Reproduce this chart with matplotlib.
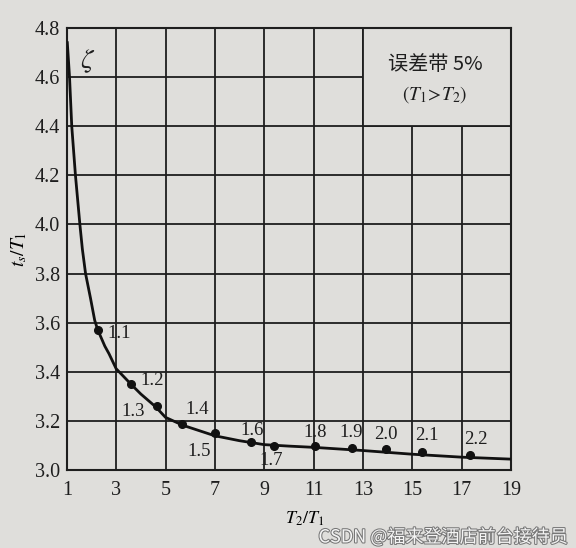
import numpy as np
import matplotlib
matplotlib.use('Agg')
from matplotlib import pyplot as plt
from matplotlib.patches import Rectangle
import matplotlib.patheffects as pe

plt.rcParams['font.family'] = ['Liberation Serif', 'Noto Sans CJK SC', 'DejaVu Sans']
plt.rcParams['mathtext.fontset'] = 'stix'

# curve (T2/T1 , ts/T1)
curve_x = [1.02, 1.11, 1.2, 1.35, 1.53, 1.63, 1.76, 1.96, 2.13, 2.25, 2.54, 2.71, 3.0, 3.6,
           4.0, 4.6, 5.0, 5.7, 6.0, 7.0, 8.0, 9.0, 10.0, 11.0, 13.0, 15.0, 17.0, 19.0]
curve_y = [4.74, 4.60, 4.40, 4.20, 4.00, 3.90, 3.80, 3.70, 3.61, 3.572, 3.505, 3.474, 3.413,
           3.35, 3.31, 3.258, 3.215, 3.183, 3.173, 3.14, 3.12, 3.104, 3.098, 3.093, 3.08,
           3.065, 3.053, 3.045]

# marked points and their zeta labels
pt_x = [2.25, 3.59, 4.67, 5.68, 7.01, 8.47, 9.4, 11.05, 12.54, 13.95, 15.4, 17.34]
pt_y = [3.572, 3.352, 3.262, 3.187, 3.15, 3.114, 3.098, 3.098, 3.09, 3.085, 3.073, 3.061]
pt_lab = ['1.1', '1.2', '1.3', '1.4', '1.5', '1.6', '1.7', '1.8', '1.9', '2.0', '2.1', '2.2']
# label offsets in pixels
lab_off = [(22, -4), (21, 3), (-24, -6), (15, 15), (-16, -18), (1, 12), (-3, -14),
           (0, 14), (0, 16), (0, 15), (5, 17), (6, 16)]

xticks = [1, 3, 5, 7, 9, 11, 13, 15, 17, 19]
yticks = [3.0, 3.2, 3.4, 3.6, 3.8, 4.0, 4.2, 4.4, 4.6, 4.8]

bg = '#dfdedb'
ink = '#1e1e1e'
fig = plt.figure(figsize=(5.76, 5.48), dpi=100, facecolor=bg)
ax = fig.add_axes([0.116, 0.142, 0.771, 0.807])
ax.set_facecolor(bg)

ax.set_xlim(1, 19)
ax.set_ylim(3.0, 4.8)
ax.set_xticks(xticks)
ax.set_yticks(yticks)
ax.set_xticklabels([str(t) for t in xticks])
ax.set_yticklabels(['%.1f' % t for t in yticks])
ax.tick_params(length=0, labelsize=14.5, colors=ink)
ax.tick_params(axis='x', pad=8)
ax.tick_params(axis='y', pad=5)
ax.set_axisbelow(True)
ax.grid(True, color=ink, lw=1.3)
for s in ax.spines.values():
    s.set_color(ink)
    s.set_linewidth(1.5)

# blank box in the upper right corner (no grid inside)
ax.add_patch(Rectangle((13, 4.4), 6, 0.4, facecolor=bg, edgecolor=ink, lw=1.3, zorder=1))
ax.text(15.92, 4.65, '误差带 5%', ha='center', va='center', fontsize=14.5,
        family=['Noto Sans CJK SC', 'Liberation Serif'], color=ink)
ax.text(15.92, 4.527, '$(T_1\\!>\\!T_2)$', ha='center', va='center', fontsize=14, color=ink)

ax.plot(curve_x, curve_y, color='#111111', lw=2.0, zorder=3, solid_joinstyle='round')
ax.plot(pt_x, pt_y, 'o', color='#111111', ms=5.5, zorder=4)
for x, y, t, (dx, dy) in zip(pt_x, pt_y, pt_lab, lab_off):
    ax.annotate(t, (x, y), xytext=(dx, dy), textcoords='offset pixels',
                ha='center', va='center', fontsize=13.5, color=ink, zorder=5)

ax.text(1.85, 4.666, '$\\zeta$', ha='center', va='center', fontsize=20, color=ink)

ax.set_ylabel('$t_s/T_1$', fontsize=14, labelpad=4)
ax.set_xlabel('$T_2/T_1$', fontsize=13)
ax.xaxis.set_label_coords(0.536, -0.088)

# watermark
fig.text(0.985, 0.02, 'CSDN @福来登酒店前台接待员', ha='right', va='center', fontsize=13,
         color='#f4f4f4', family=['Noto Sans CJK SC', 'DejaVu Sans'],
         path_effects=[pe.withStroke(linewidth=1.5, foreground='#777777')])

fig.savefig('out.png', dpi=100, facecolor=bg)
